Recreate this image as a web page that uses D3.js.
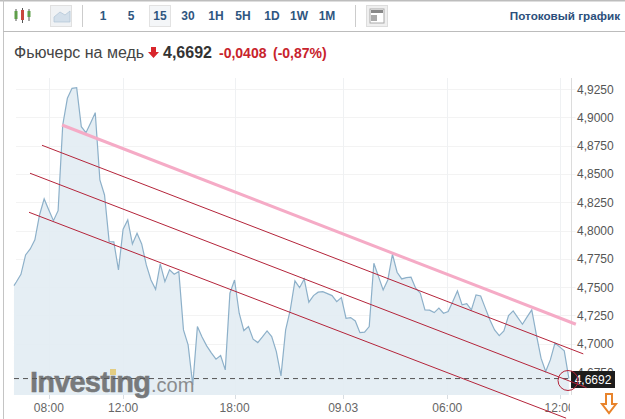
<!DOCTYPE html>
<html><head><meta charset="utf-8">
<style>html,body{margin:0;padding:0;background:#fff;overflow:hidden}svg{display:block;font-family:"Liberation Sans",Arial,sans-serif}</style>
<script src="https://cdn.jsdelivr.net/npm/d3@7/dist/d3.min.js"></script>
</head><body><svg id="c" width="625" height="419"></svg>
<script>
// First quote is a short lead-in before slot 0; then one close per 15-minute slot.
const leadInSlot = -0.5;
const leadInValue = 4.7513;
const closes = [4.7545,4.7613,4.7784,4.7837,4.7917,4.8137,4.8279,4.8181,4.8087,4.8175,
4.8932,4.9168,4.9256,4.9261,4.8917,4.8864,4.8950,4.9041,4.8446,4.8314,
4.7902,4.7899,4.7652,4.8011,4.8093,4.7881,4.7976,4.7881,4.7696,4.7563,
4.7481,4.7705,4.7548,4.7652,4.7613,4.7637,4.7122,4.6990,4.6636,4.7151,
4.7060,4.6981,4.6919,4.6863,4.6895,4.6769,4.7446,4.7563,4.7269,4.7116,
4.7151,4.7040,4.7010,4.7060,4.7113,4.7063,4.6930,4.6716,4.7122,4.7299,
4.7555,4.7495,4.7572,4.7367,4.7425,4.7455,4.7460,4.7442,4.7425,4.7372,
4.7407,4.7225,4.7231,4.7201,4.7098,4.7102,4.7151,4.7711,4.7593,4.7475,
4.7563,4.7790,4.7631,4.7572,4.7584,4.7587,4.7490,4.7446,4.7299,4.7296,
4.7275,4.7314,4.7269,4.7284,4.7372,4.7466,4.7343,4.7354,4.7299,4.7431,
4.7422,4.7314,4.7210,4.7122,4.7072,4.7113,4.7248,4.7290,4.7231,4.7172,
4.7237,4.7299,4.7078,4.6872,4.6754,4.6857,4.7005,4.6972,4.6937,4.6692];
const yTicks = [4.925,4.9,4.875,4.85,4.825,4.8,4.775,4.75,4.725,4.7,4.675];
const xTickSlots = [7,23,47,70.4,92.8,117];
const xTickLabels = ["08:00","12:00","18:00","09.03","06:00","12:00"];
const lastPrice = 4.6692;
const pinkLine = [[9.84,4.8932],[120.5,4.7172]];
const redLines = [
  [[5.53,4.8753],[122.1,4.691]],
  [[2.95,4.8506],[122.8,4.6612]],
  [[2.74,4.8161],[118.4,4.6342]]
];
const intervals = ["1","5","15","30","1H","5H","1D","1W","1M"];
const intervalCentres = [103,131,160,188,216,243,272,299,327];

const svg = d3.select("#c");
const x = d3.scaleLinear().domain([0,119]).range([16.3,568.9]);
const y = d3.scaleLinear().domain([4.925,4.675]).range([89,372.0]);
const plotBottom = 395, axisX = 571.5, plotLeft = 14;
const pts = [[leadInSlot,leadInValue]].concat(closes.map((v,i)=>[i,v]));

svg.append("defs").append("clipPath").attr("id","xclip").append("rect")
  .attr("x",0).attr("y",395).attr("width",570).attr("height",24);

// frame
svg.append("rect").attr("x",0).attr("y",0).attr("width",625).attr("height",1.5).attr("fill","#bdbdbd");
svg.append("rect").attr("x",3).attr("y",0).attr("width",1).attr("height",419).attr("fill","#c4c4c4");
svg.append("rect").attr("x",3).attr("y",31).attr("width",622).attr("height",1).attr("fill","#bcbcbc");

// grid
const g = svg.append("g");
g.selectAll(".h").data(yTicks).join("line").attr("x1",plotLeft+2).attr("x2",axisX+4)
  .attr("y1",d=>Math.round(y(d))+.5).attr("y2",d=>Math.round(y(d))+.5).attr("stroke","#f3f3f3");
g.selectAll(".v").data(xTickSlots).join("line").attr("y1",78).attr("y2",plotBottom+4)
  .attr("x1",d=>Math.round(x(d))+.5).attr("x2",d=>Math.round(x(d))+.5).attr("stroke","#eff1f3");

// area + line
const area = d3.area().x(d=>x(d[0])).y0(plotBottom).y1(d=>y(d[1]));
const line = d3.line().x(d=>x(d[0])).y(d=>y(d[1]));
g.append("path").datum(pts).attr("d",area).attr("fill","#e2ecf3").attr("fill-opacity",.9);
g.append("path").datum(pts).attr("d",line).attr("fill","none").attr("stroke","#8db0c9").attr("stroke-width",1.2);
g.selectAll(".v2").data(xTickSlots).join("line").attr("y1",plotBottom).attr("y2",plotBottom+4)
  .attr("x1",d=>Math.round(x(d))+.5).attr("x2",d=>Math.round(x(d))+.5).attr("stroke","#d8dde2");

// axis
svg.append("line").attr("x1",axisX).attr("x2",axisX).attr("y1",78).attr("y2",plotBottom)
  .attr("stroke","#dcdcdc");
svg.selectAll(".yl").data(yTicks).join("text").attr("x",577).attr("y",d=>y(d)+4.5)
  .attr("font-size",12).attr("fill","#555").text(d=>d3.format(".4f")(d).replace(".",","));
svg.append("g").attr("clip-path","url(#xclip)").selectAll("text").data(xTickSlots).join("text")
  .attr("x",d=>x(d)).attr("y",412).attr("text-anchor","middle").attr("font-size",12).attr("fill","#666")
  .text((d,i)=>xTickLabels[i]);

// watermark
svg.append("text").attr("x",30).attr("y",392).attr("font-size",29).attr("font-weight","bold")
  .attr("letter-spacing",-0.8).attr("fill","#77797b").attr("stroke","#77797b").attr("stroke-width",.5).text("Investing");
svg.append("text").attr("x",151).attr("y",392).attr("font-size",20).attr("fill","#8a8c8e").text(".com");
svg.append("rect").attr("x",110).attr("y",369).attr("width",6).attr("height",6).attr("fill","#e3cd82");

// last price
svg.append("line").attr("x1",plotLeft).attr("x2",axisX).attr("y1",y(lastPrice)).attr("y2",y(lastPrice))
  .attr("stroke","#555").attr("stroke-dasharray","5 4");

// trend lines
svg.append("line").attr("x1",x(pinkLine[0][0])).attr("y1",y(pinkLine[0][1]))
  .attr("x2",x(pinkLine[1][0])).attr("y2",y(pinkLine[1][1])).attr("stroke","#f5abc6").attr("stroke-width",3);

svg.append("rect").attr("x",571).attr("y",371).attr("width",44).attr("height",17).attr("fill","#1d1d1d");
svg.append("text").attr("x",593).attr("y",384).attr("text-anchor","middle").attr("font-size",12)
  .attr("fill","#fff").text("4,6692");

svg.selectAll(".red").data(redLines).join("line")
  .attr("x1",d=>x(d[0][0])).attr("y1",d=>y(d[0][1])).attr("x2",d=>x(d[1][0])).attr("y2",d=>y(d[1][1]))
  .attr("stroke","#b4243a").attr("stroke-width",1);
svg.append("circle").attr("cx",568).attr("cy",380.5).attr("r",10).attr("fill","none").attr("stroke","#b4243a").attr("stroke-width",1);

// orange arrow
svg.append("path").attr("d","M606 394h6v10h4l-7 9l-7-9h4z").attr("fill","#fff").attr("stroke","#e8842c").attr("stroke-width",2);

// toolbar
const bar = svg.append("g");
const candles = [[16,11,19,9,21,"#5f9e4a"],[22.5,10,20,8,23,"#c9463e"],[29,11,17,9,21,"#5f9e4a"]];
candles.forEach(c=>{
  bar.append("line").attr("x1",c[0]).attr("x2",c[0]).attr("y1",c[3]).attr("y2",c[4]).attr("stroke","#555");
  bar.append("rect").attr("x",c[0]-1.5).attr("y",c[1]).attr("width",3).attr("height",c[2]-c[1]).attr("fill",c[5]);
});
bar.append("rect").attr("x",50.5).attr("y",5.5).attr("width",21).attr("height",21).attr("fill","#f0f2f4").attr("stroke","#e0e0e0");
bar.append("path").attr("d","M54 22v-5l6-5l5 3l5-4v11z").attr("fill","#d3dfea").attr("stroke","#b0c4d6").attr("stroke-width",.7);
bar.append("line").attr("x1",82.5).attr("x2",82.5).attr("y1",5).attr("y2",27).attr("stroke","#ccc");
bar.append("rect").attr("x",149.5).attr("y",5.5).attr("width",21).attr("height",21).attr("fill","#f4f6f8").attr("stroke","#e2e2e2");
bar.selectAll(".iv").data(intervals).join("text").attr("x",(d,i)=>intervalCentres[i]).attr("y",20)
  .attr("text-anchor","middle").attr("font-size",12).attr("font-weight","bold").attr("fill","#2f5680").text(d=>d);
bar.append("line").attr("x1",355.5).attr("x2",355.5).attr("y1",5).attr("y2",27).attr("stroke","#ccc");
bar.append("rect").attr("x",366.5).attr("y",5.5).attr("width",21).attr("height",21).attr("fill","#efefef").attr("stroke","#ddd");
bar.append("rect").attr("x",370).attr("y",9).attr("width",14).attr("height",14).attr("fill","#fff").attr("stroke","#aaa");
bar.append("rect").attr("x",371).attr("y",10).attr("width",12).attr("height",3).attr("fill","#888");
bar.append("rect").attr("x",371).attr("y",15).attr("width",6).attr("height",6).attr("fill","#aaa");
bar.append("text").attr("x",620).attr("y",20).attr("text-anchor","end").attr("font-size",11.7).attr("font-weight","bold")
  .attr("fill","#2c4f7c").text("Потоковый график");

// title
svg.append("text").attr("x",14).attr("y",58).attr("font-size",16).attr("fill","#444").text("Фьючерс на медь");
svg.append("path").attr("d","M151 47h5v5h3l-5.5 6l-5.5-6h3z").attr("fill","#d9262c");
svg.append("text").attr("x",163).attr("y",58).attr("font-size",16).attr("font-weight","bold").attr("fill","#333").text("4,6692");
svg.append("text").attr("x",219).attr("y",58).attr("font-size",14).attr("font-weight","bold").attr("fill","#c8232c").text("-0,0408");
svg.append("text").attr("x",273).attr("y",58).attr("font-size",14).attr("font-weight","bold").attr("fill","#c8232c").text("(-0,87%)");
</script></body></html>
